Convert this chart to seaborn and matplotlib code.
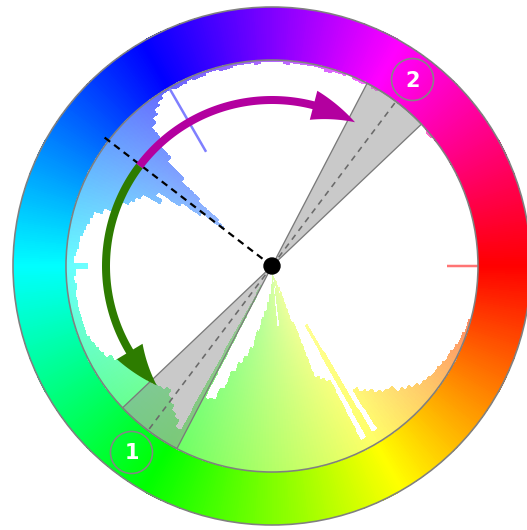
import numpy as np
import matplotlib
matplotlib.use("Agg")
import matplotlib.pyplot as plt
import seaborn as sns
from matplotlib.patches import Polygon, Circle

# hue histogram (bin centre in degrees of hue, bin count in % of wheel radius)
hue_bins = np.arange(0, 360, 2)
counts = [
    0, 0, 0, 0, 0, 0, 0, 0, 1, 1,
    2, 2, 3, 4, 4, 5, 6, 6, 7, 8,
    10, 12, 14, 17, 18, 20, 23, 25, 28, 6,
    67, 5, 38, 40, 42, 71, 89, 86, 93, 94,
    88, 95, 71, 95, 96, 94, 91, 86, 83, 78,
    75, 68, 59, 54, 50, 46, 36, 29, 28, 89,
    9, 13, 15, 17, 19, 22, 20, 19, 18, 17,
    17, 16, 17, 16, 13, 11, 8, 7, 6, 5,
    4, 4, 4, 4, 4, 4, 4, 5, 4, 5,
    11, 4, 5, 6, 6, 7, 8, 9, 10, 14,
    17, 20, 24, 26, 28, 38, 34, 47, 57, 70,
    66, 52, 40, 28, 18, 11, 8, 5, 3, 1,
    1,
    2, 2, 1, 2, 2, 1, 1, 2, 2, 1,
    1, 1, 2, 1, 1, 1, 2, 1, 1, 1,
    1, 1, 2, 1, 1, 0, 1, 1, 0, 1,
    0, 0, 0, 0, 0, 0, 0, 0, 0, 1,
    0, 0, 0, 0, 0, 0, 0, 0, 0, 0,
    0, 0, 0, 0, 0, 0, 0, 0, 0,
]

# sample colour markers: hue, inner radius (% of wheel radius)
marker_hues = [0, 240]
marker_start = [85, 64]
marker_colors = ["#ff7474", "#7f7fff"]

# complementary harmony: two sectors
sector_hues = [127, 307]
sector_labels = ["1", "2"]
sector_halfwidth = 9.5

# dominant hue and the rotation arrows (start hue, head base hue, tip hue)
dominant_hue = 217.5
arrows = {
    "#b3009f": (217, 284.5, 300),
    "#2d7c00": (217, 149, 134),
}

CX, CY = 272, 266
R_IN, R_OUT = 206, 259
PX = 0.72  # points per pixel at 100 dpi

plt.rcParams["lines.scale_dashes"] = False
sns.set_style("white")

fig = plt.figure(figsize=(5.27, 5.30), dpi=100)
ax = fig.add_axes([0, 0, 1, 1])
ax.set_xlim(0, 527)
ax.set_ylim(530, 0)
ax.set_aspect("equal")
ax.axis("off")


def polar(hue, r):
    a = np.deg2rad(hue)
    return CX + r * np.cos(a), CY + r * np.sin(a)


# colour ring
n_ring = 720
ring_h = np.linspace(0, 360, n_ring + 1)
H, R = np.meshgrid(ring_h, [R_IN, R_OUT])
X, Y = polar(H, R)
ring_cols = np.array(sns.hls_palette(n_ring, h=0.5 / n_ring, l=0.5, s=1.0))
ax.pcolormesh(X, Y, ring_cols[None, :, :], shading="flat",
              antialiased=False, edgecolors="none", zorder=1)

# histogram bars, growing from the rim towards the centre
cell_h = np.arange(-1, 360, 1)
r_edges = np.linspace(0, R_IN, 104)
H, R = np.meshgrid(cell_h, r_edges)
X, Y = polar(H, R)
rc = (r_edges[:-1] + r_edges[1:]) / 2
bin_idx = np.arange(360) // 2
depth = np.array(counts, dtype=float)[bin_idx] / 100 * R_IN
filled = rc[:, None] >= (R_IN - depth)[None, :]
base = np.array(sns.hls_palette(360, h=1 - 0.5 / 360, l=0.5, s=1.0))
t = 0.33 + 0.27 * (rc / R_IN)
rgb = 1 - t[:, None, None] * (1 - base[None, :, :])
rgba = np.concatenate([rgb, filled[:, :, None].astype(float)], axis=2)
ax.pcolormesh(X, Y, rgba, shading="flat", antialiased=False,
              edgecolors="none", zorder=2)

# sample markers
for h, s, c in zip(marker_hues, marker_start, marker_colors):
    x, y = polar(np.array([h, h]), np.array([s / 100 * R_IN, R_IN]))
    ax.plot(x, y, color=c, lw=2.5 * PX, solid_capstyle="butt", zorder=3)

# sectors
for h in sector_hues:
    arc = np.linspace(h - sector_halfwidth, h + sector_halfwidth, 40)
    ax_, ay_ = polar(arc, R_IN)
    pts = np.vstack([[CX, CY], np.column_stack([ax_, ay_])])
    ax.add_patch(Polygon(pts, closed=True, facecolor=(0.56, 0.56, 0.56, 0.48),
                         edgecolor="#7a7a7a", lw=1.3 * PX, zorder=4))
    x, y = polar(np.array([h, h]), np.array([0, R_IN]))
    ax.plot(x, y, color="#6a6a6a", lw=1.6 * PX, dashes=(6 * PX, 5 * PX), zorder=5)

# rim outlines
for r in (R_IN, R_OUT):
    ax.add_patch(Circle((CX, CY), r, fill=False, edgecolor="#808080",
                        lw=1.6 * PX, zorder=6))

# dominant hue
x, y = polar(np.array([dominant_hue, dominant_hue]), np.array([0, R_IN + 7]))
ax.plot(x, y, color="black", lw=2.2 * PX, dashes=(7 * PX, 5 * PX), zorder=7)

# arrows
r_arc, half_w, head_w = 166, 4, 15
for color, (h0, hb, ht) in arrows.items():
    body = np.linspace(h0, hb, 60)
    head = np.linspace(hb, ht, 20)
    ox, oy = polar(body, r_arc + half_w)
    hox, hoy = polar(head, np.linspace(r_arc + head_w, r_arc, 20))
    hix, hiy = polar(head[::-1], np.linspace(r_arc, r_arc - head_w, 20))
    ix, iy = polar(body[::-1], r_arc - half_w)
    pts = np.column_stack([
        np.concatenate([ox, hox, hix, ix]),
        np.concatenate([oy, hoy, hiy, iy]),
    ])
    ax.add_patch(Polygon(pts, closed=True, facecolor=color, edgecolor="none",
                         zorder=8))

# sector labels on the ring
r_lab = (R_IN + R_OUT) / 2 + 1
for h, lab in zip(sector_hues, sector_labels):
    x, y = polar(h, r_lab)
    ax.add_patch(Circle((x, y), 21, fill=False, edgecolor="#858585",
                        lw=1.6 * PX, zorder=9))
    ax.text(x, y + 1, lab, color="white", fontsize=15, fontweight="bold",
            ha="center", va="center", zorder=10)

ax.add_patch(Circle((CX, CY), 8, color="black", zorder=11))

fig.savefig("out.png", dpi=100, facecolor="white")
